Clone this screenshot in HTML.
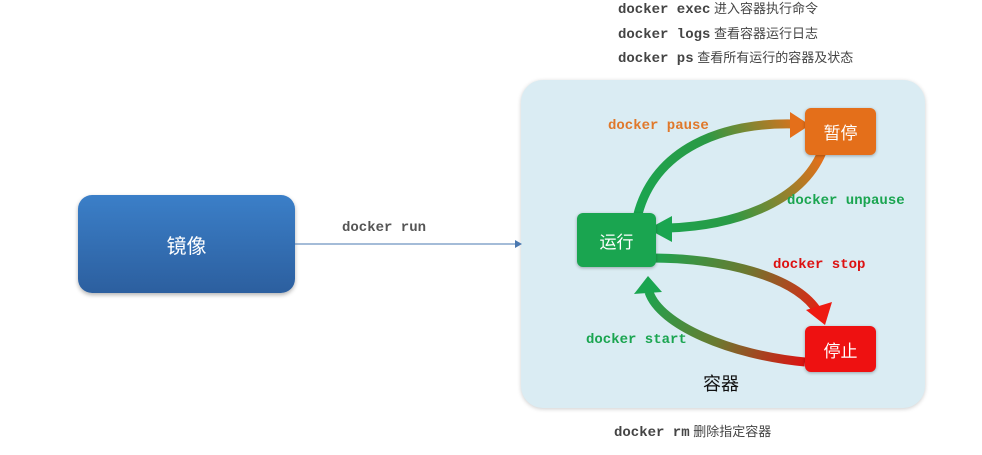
<!DOCTYPE html>
<html><head><meta charset="utf-8"><style>
body{margin:0;width:982px;height:455px;background:#fff;overflow:hidden;position:relative;font-family:"Liberation Sans","Noto Sans CJK SC",sans-serif}
.t{position:absolute;font-size:13px;color:#444;white-space:nowrap;line-height:16px}
.m{font-family:"Liberation Mono","Noto Sans CJK SC",monospace;font-weight:bold;font-size:14px}
</style></head><body>
<div class="t" style="left:618px;top:1px"><span class="m">docker exec</span> 进入容器执行命令</div>
<div class="t" style="left:618px;top:26px"><span class="m">docker logs</span> 查看容器运行日志</div>
<div class="t" style="left:618px;top:50px"><span class="m">docker ps</span> 查看所有运行的容器及状态</div>
<div class="t" style="left:614px;top:424px"><span class="m">docker rm</span> 删除指定容器</div>
<div class="t m" style="left:342px;top:220px;color:#555">docker run</div>
<div style="position:absolute;left:78px;top:195px;width:217px;height:98px;border-radius:14px;background:linear-gradient(#3b7fc8,#2c5f9f);box-shadow:0 2px 4px rgba(0,0,0,.3);color:#fff;font-size:20px;display:flex;align-items:center;justify-content:center">镜像</div>
<div style="position:absolute;left:521px;top:80px;width:404px;height:328px;border-radius:22px;background:#daecf3;box-shadow:0 1px 4px rgba(0,0,0,.2)"></div>
<svg width="982" height="455" style="position:absolute;left:0;top:0">
<defs>
<linearGradient id="gp" gradientUnits="userSpaceOnUse" x1="640" y1="214" x2="805" y2="125"><stop offset="0" stop-color="#1aa550"/><stop offset=".5" stop-color="#2a9a45"/><stop offset="1" stop-color="#e46f1a"/></linearGradient>
<linearGradient id="gu" gradientUnits="userSpaceOnUse" x1="820" y1="155" x2="655" y2="228"><stop offset="0" stop-color="#e46f1a"/><stop offset=".6" stop-color="#2a9a45"/><stop offset="1" stop-color="#1aa550"/></linearGradient>
<linearGradient id="gs" gradientUnits="userSpaceOnUse" x1="650" y1="258" x2="825" y2="322"><stop offset="0" stop-color="#1aa550"/><stop offset=".5" stop-color="#6a7a30"/><stop offset="1" stop-color="#ee1a11"/></linearGradient>
<linearGradient id="gt" gradientUnits="userSpaceOnUse" x1="805" y1="362" x2="648" y2="282"><stop offset="0" stop-color="#dd1111"/><stop offset=".5" stop-color="#6a7a30"/><stop offset="1" stop-color="#1aa550"/></linearGradient>
</defs>
<line x1="295" y1="244" x2="515" y2="244" stroke="#4a78b0" stroke-width="1"/>
<polygon points="515,240 522,244 515,248" fill="#4a78b0"/>
<g fill="none" stroke-width="9" stroke-linecap="butt">
<path d="M638,214 C655,150 720,122 795,124" stroke="url(#gp)"/>
<path d="M822,152 C800,205 730,226 668,228" stroke="url(#gu)"/>
<path d="M650,258 C720,258 795,275 818,312" stroke="url(#gs)"/>
<path d="M805,362 C730,355 660,325 649,292" stroke="url(#gt)"/>
</g>
<polygon points="790,112 810,125 790,138" fill="#e46f1a"/>
<polygon points="672,216 648,229 672,242" fill="#1aa550"/>
<polygon points="806,310 825,325 832,302" fill="#ee1a11"/>
<polygon points="634,294 648,276 662,292" fill="#1aa550"/>
</svg>
<div style="position:absolute;left:577px;top:213px;width:79px;height:54px;border-radius:6px;background:#1aa550;color:#fff;font-size:17px;display:flex;align-items:center;justify-content:center;box-shadow:0 1px 3px rgba(0,0,0,.3)">运行</div>
<div style="position:absolute;left:805px;top:108px;width:71px;height:47px;border-radius:6px;background:#e46f1a;color:#fff;font-size:17px;display:flex;align-items:center;justify-content:center;box-shadow:0 1px 3px rgba(0,0,0,.3)">暂停</div>
<div style="position:absolute;left:805px;top:326px;width:71px;height:46px;border-radius:6px;background:#ee1111;color:#fff;font-size:17px;display:flex;align-items:center;justify-content:center;box-shadow:0 1px 3px rgba(0,0,0,.3)">停止</div>
<div class="t m" style="left:608px;top:118px;color:#e0782a">docker pause</div>
<div class="t m" style="left:787px;top:193px;color:#1aa550">docker unpause</div>
<div class="t m" style="left:773px;top:257px;color:#dd1111">docker stop</div>
<div class="t m" style="left:586px;top:332px;color:#1aa550">docker start</div>
<div class="t" style="left:703px;top:373px;font-size:18px;color:#111;line-height:22px">容器</div>
</body></html>
